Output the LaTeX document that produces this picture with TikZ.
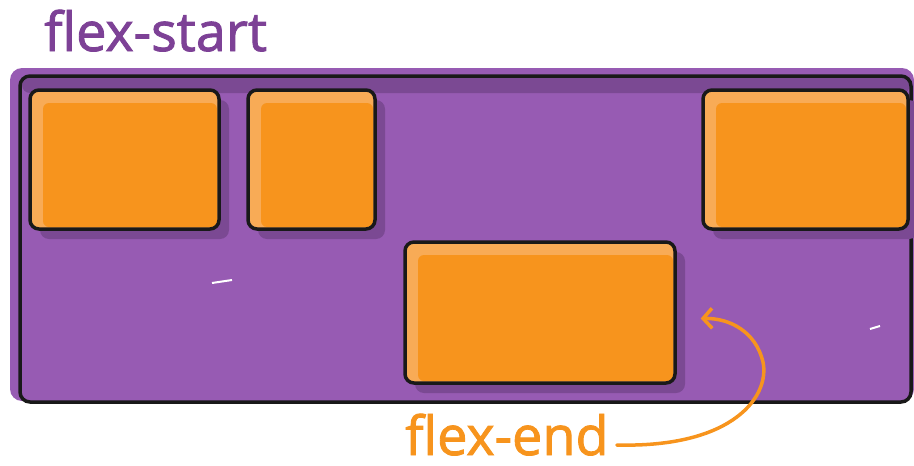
\documentclass[tikz,border=0pt]{standalone}
\usepackage{fontspec}
\setmainfont{Open Sans}
\newfontfamily\flexfont{Open Sans}[FakeBold=1.6]
\usetikzlibrary{arrows.meta}
\definecolor{boxpurple}{HTML}{975BB3}
\definecolor{shadepurple}{HTML}{7B4993}
\definecolor{itemorange}{HTML}{F7941D}
\definecolor{itemlight}{HTML}{F8AB56}
\definecolor{labelpurple}{HTML}{7D4196}
\tikzset{
  flexitem/.style={draw=black!90, line width=3.5pt, rounded corners=9pt, inner sep=0pt},
  flexlabel/.style={font=\flexfont\fontsize{54}{60}\selectfont, inner sep=0pt, anchor=base west}
}
\begin{document}
\begin{tikzpicture}[x=1pt,y=-1pt]
\useasboundingbox (0,0) rectangle (914,466);
% container
\fill[boxpurple,rounded corners=12pt] (10,68) rectangle (914,401);
\fill[shadepurple,rounded corners=8pt] (22,78) rectangle (910,93);
\draw[black!90,line width=3.5pt,rounded corners=10pt] (20,76) rectangle (911,402);
\draw[white,line width=2pt] (212,283) -- (232,280);
\draw[white,line width=2pt] (870,329) -- (880,326);
% items: left/top/width/height/name
\foreach \x/\y/\w/\h/\n in {30/90/189/139/a,248/90/127/139/b,703/90/205/139/c,405/242/270/141/d} {
  \fill[shadepurple,rounded corners=9pt] (\x+10,\y+10) rectangle (\x+\w+10,\y+\h+10);
  \fill[itemlight,rounded corners=9pt] (\x,\y) rectangle (\x+\w,\y+\h);
  \fill[itemorange,rounded corners=6pt] (\x+13,\y+13) rectangle (\x+\w-2,\y+\h-2);
  \node[flexitem,minimum width=\w pt,minimum height=\h pt] (\n) at (\x+\w/2,\y+\h/2) {};
}
% labels
\node[flexlabel,text=labelpurple] (start) at (44,51) {flex-start};
\node[flexlabel,text=itemorange] (end) at (405,455) {flex-end};
\draw[itemorange,line width=3.5pt,line cap=round,-{Straight Barb[length=9pt,width=20pt]}]
  ([xshift=8pt,yshift=10pt]end.base east) .. controls (735,448) and (770,395) .. (763,362)
  .. controls (756,332) and (730,318) .. ([xshift=24pt,yshift=-6pt]d.east);
\end{tikzpicture}
\end{document}
